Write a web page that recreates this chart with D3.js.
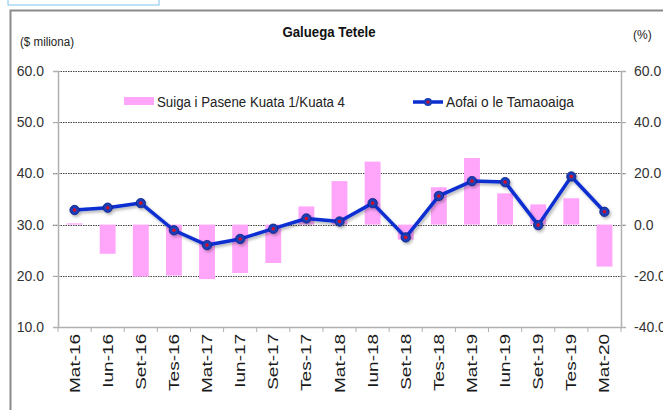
<!DOCTYPE html>
<html><head><meta charset="utf-8">
<script src="https://cdn.jsdelivr.net/npm/d3@7"></script>
<style>body{margin:0;background:#fff}svg{display:block}</style>
</head><body>
<script>
const categories = ["Mat-16","Iun-16","Set-16","Tes-16","Mat-17","Iun-17","Set-17","Tes-17","Mat-18","Iun-18","Set-18","Tes-18","Mat-19","Iun-19","Set-19","Tes-19","Mat-20"];
const changePct = [0.5,-11.4,-20.3,-19.9,-21.3,-18.9,-15.0,7.1,17.0,24.6,-5.9,14.6,26.0,12.2,7.9,10.3,-16.4];
const totalMillions = [32.85,33.3,34.2,28.9,26.0,27.2,29.2,31.2,30.6,34.2,27.5,35.6,38.5,38.3,29.9,39.4,32.5];
const leftTicks = [10,20,30,40,50,60];
const rightTicks = [-40,-20,0,20,40,60];
const title = "Galuega Tetele";
const leftUnit = "($ miliona)";
const rightUnit = "(%)";
const barLabel = "Suiga i Pasene Kuata 1/Kuata 4";
const lineLabel = "Aofai o le Tamaoaiga";

const W=663,H=410;
const m={l:58,r:621,t:71,b:327};
const font="'Liberation Sans',Arial,sans-serif";
const svg=d3.select("body").append("svg").attr("width",W).attr("height",H);
const defs=svg.append("defs");
const f=defs.append("filter").attr("id","sh").attr("x","-10%").attr("y","-20%").attr("width","120%").attr("height","150%");
f.append("feDropShadow").attr("dx",1.5).attr("dy",2).attr("stdDeviation",1.5).attr("flood-color","#000").attr("flood-opacity",0.3);

// frames
svg.append("rect").attr("x",8).attr("y",-2).attr("width",151).attr("height",7).attr("fill","none").attr("stroke","#7cc4ec").attr("stroke-width",1);
svg.append("path").attr("d",`M10.5,${H} V10.5 H${W}`).attr("fill","none").attr("stroke","#8a8a8a").attr("stroke-width",2);

const x=d3.scaleBand().domain(categories).range([m.l,m.r]).paddingInner(0.52).paddingOuter(0.26);
const xb=d3.scaleBand().domain(categories).range([m.l,m.r]);
const yL=d3.scaleLinear().domain([10,60]).range([m.b,m.t]);
const yR=d3.scaleLinear().domain([-40,60]).range([m.b,m.t]);
const fmt=d=>d.toFixed(1);

// gridlines
svg.append("g").selectAll("line").data(leftTicks.filter(d=>d>10)).join("line")
 .attr("x1",m.l-5).attr("x2",m.r+5).attr("y1",d=>Math.round(yL(d))+0.5).attr("y2",d=>Math.round(yL(d))+0.5)
 .attr("stroke","#444").attr("stroke-width",1).attr("stroke-dasharray","1.5,1");

// bars
svg.append("g").selectAll("rect").data(categories).join("rect")
 .attr("x",d=>x(d)).attr("width",x.bandwidth())
 .attr("y",(d,i)=>Math.min(yR(changePct[i]),yR(0)))
 .attr("height",(d,i)=>Math.abs(yR(changePct[i])-yR(0)))
 .attr("fill","#ffa6fb");

// axes
const axL=svg.append("g").attr("transform",`translate(${m.l},0)`).call(d3.axisLeft(yL).tickValues(leftTicks).tickFormat(fmt).tickSize(5).tickPadding(9));
const axR=svg.append("g").attr("transform",`translate(${m.r},0)`).call(d3.axisRight(yR).tickValues(rightTicks).tickFormat(fmt).tickSize(5).tickPadding(8));
const axB=svg.append("g").attr("transform",`translate(0,${m.b})`).call(d3.axisBottom(xb).tickSize(0).tickPadding(0));
[axL,axR,axB].forEach(a=>{a.select(".domain").attr("stroke","#b0b0b0").attr("stroke-width",1.5);a.selectAll(".tick line").attr("stroke","#b0b0b0");});
axL.selectAll("text").attr("font-family",font).attr("font-size",14).attr("fill","#333");
axR.selectAll("text").attr("font-family",font).attr("font-size",14).attr("fill","#333");
axB.selectAll(".tick text").attr("font-family",font).attr("font-size",14).attr("fill","#1a1a1a")
 .attr("transform","rotate(-90) scale(1.36,1)").attr("text-anchor","end").attr("x",-5).attr("y",0).attr("dy","0.36em");
// category boundary ticks
svg.append("g").selectAll("line").data(d3.range(categories.length+1)).join("line")
 .attr("x1",i=>m.l+i*xb.step()).attr("x2",i=>m.l+i*xb.step()).attr("y1",m.b).attr("y2",m.b+5)
 .attr("stroke","#b0b0b0");

// line
const cx=d=>xb(d)+xb.bandwidth()/2;
const line=d3.line().x((d,i)=>cx(categories[i])).y(d=>yL(d));
const lg=svg.append("g").attr("filter","url(#sh)");
lg.append("path").datum(totalMillions).attr("d",line).attr("fill","none").attr("stroke","#0a2ed0").attr("stroke-width",3.5).attr("stroke-linejoin","round");
lg.selectAll("circle.o").data(totalMillions).join("circle").attr("class","o")
 .attr("cx",(d,i)=>cx(categories[i])).attr("cy",d=>yL(d)).attr("r",4.7).attr("fill","#1a3db8").attr("stroke","#0a2080").attr("stroke-width",0.8);
svg.append("g").selectAll("circle").data(totalMillions).join("circle")
 .attr("cx",(d,i)=>cx(categories[i])).attr("cy",d=>yL(d)).attr("r",1.8).attr("fill","#d0102a");

// texts
svg.append("text").attr("x",329).attr("y",37).attr("text-anchor","middle").attr("font-family",font).attr("font-weight","bold").attr("font-size",14.5).attr("fill","#111")
 .attr("textLength",93).attr("lengthAdjust","spacingAndGlyphs").text(title);
svg.append("text").attr("x",20).attr("y",46).attr("font-family",font).attr("font-size",12).attr("fill","#222")
 .attr("textLength",54).attr("lengthAdjust","spacingAndGlyphs").text(leftUnit);
svg.append("text").attr("x",633).attr("y",39).attr("font-family",font).attr("font-size",12).attr("fill","#222").text(rightUnit);

// legend
svg.append("rect").attr("x",124).attr("y",97).attr("width",30).attr("height",8).attr("fill","#ffa6fb");
svg.append("text").attr("x",157).attr("y",107).attr("font-family",font).attr("font-size",14).attr("fill","#222")
 .attr("textLength",188).attr("lengthAdjust","spacingAndGlyphs").text(barLabel);
svg.append("line").attr("x1",413).attr("x2",443).attr("y1",102).attr("y2",102).attr("stroke","#0a2ed0").attr("stroke-width",3.5);
svg.append("circle").attr("cx",428).attr("cy",102).attr("r",4).attr("fill","#1a3db8");
svg.append("circle").attr("cx",428).attr("cy",102).attr("r",1.6).attr("fill","#d0102a");
svg.append("text").attr("x",446).attr("y",107).attr("font-family",font).attr("font-size",14).attr("fill","#222")
 .attr("textLength",128).attr("lengthAdjust","spacingAndGlyphs").text(lineLabel);
</script>
</body></html>
